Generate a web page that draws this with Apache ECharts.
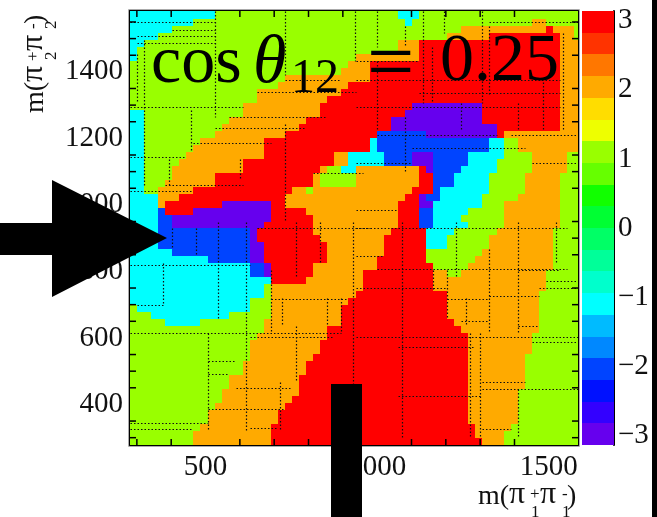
<!DOCTYPE html>
<html>
<head>
<meta charset="utf-8">
<style>html,body{margin:0;padding:0;background:#fff}#c{width:657px;height:517px}</style>
<script src="https://cdn.jsdelivr.net/npm/echarts@6/dist/echarts.min.js"></script>
</head>
<body>
<div id="c"></div>
<script>
// axis ranges (MeV) and colour-scale range
const xRange = [280, 1585];
const yRange = [278, 1583];
const zRange = [-Math.PI, Math.PI];
const xBinRange = [280, 1594];
const yBinRange = [278, 1580];
const xMajorTicks = [500, 1000, 1500];
const yMajorTicks = [400, 600, 800, 1000, 1200, 1400];
const xMinorTicks = [300,400,600,700,800,900,1100,1200,1300,1400];
const yMinorTicks = [300,350,450,500,550,650,700,750,850,900,950,1050,1100,1150,1250,1300,1350,1450,1500,1550];
const zTicks = [-3,-2,-1,0,1,2,3];
const nCols = 64;
const nRows = 62;
// phase value of each letter used in the rows below
const codeValues = {r:3.0, o:2.0, g:1.1, c:-1.1, b:-2.0, p:-3.0};
// 20 colour bands from -pi to pi
const bandColors = ['#6600ee','#3300ff','#0011ff','#0044ff','#0088ff','#00bbff','#00ffff','#00ffcc','#00ff99','#00ff66',
  '#00ff33','#11ff00','#66ff00','#99ff00','#eeff00','#ffdd00','#ffaa00','#ff7700','#ff3300','#ff0000'];
// phase map: rows from the top, each run is letter + end bin
const phaseRows = [
"c12 g38 c41 g64",
"c9 g39 c40 g57 o59 g64",
"c6 g47 o59 r60 o63 g64",
"c4 g45 o51 r61 o63 g64",
"c2 g38 o41 r61 o64",
"c1 g38 o41 r61 o64",
"c1 g32 o41 r61 o64",
"g31 o34 r61 o64",
"g30 o34 r61 o64",
"g22 o34 r61 o64",
"g21 o31 r61 o64",
"g18 o30 r61 o64",
"g18 o28 r61 o64",
"g16 o27 r40 p50 r61 o64",
"c2 g16 o27 r39 p50 r61 o64",
"c2 g14 o25 r37 p50 r61 o64",
"c2 g13 o24 r37 p52 r61 o64",
"c2 g12 o22 r35 b42 p52 r53 o64",
"c2 g10 o19 r34 c35 b51 c53 g55 o64",
"c2 g9 o19 r34 c35 b51 c53 g55 o64",
"c2 g8 o19 r29 o31 c36 b40 p43 b48 c53 g57 o62 g64",
"c2 g7 o16 r29 o31 c36 b40 p43 b48 c52 g57 o62 g64",
"c2 g6 o16 r27 o28 g30 c32 o41 r42 p43 b47 c52 g57 o62 g64",
"c2 g6 o12 r26 o27 g32 o41 r43 b46 c51 g56 o61 g64",
"c2 g5 o12 r26 o27 g32 o41 r43 b46 c51 g56 o61 g64",
"c2 g4 o9 r23 o25 g26 o40 r43 b44 c51 g56 o61 g64",
"c4 o7 r22 o39 r41 p42 b44 c50 g55 o61 g64",
"c4 o5 r13 p20 r22 o38 r41 p43 c50 g53 o61 g64",
"c4 b5 r9 p20 r25 o38 r41 b43 c48 g53 o61 g64",
"c4 b6 p20 r26 o38 r41 b43 c47 g53 o61 g64",
"c4 b6 p19 r26 o38 r41 b43 c48 g53 o61 g64",
"c4 b17 p18 r26 o37 r42 c46 g52 o60 g64",
"c4 b17 p18 r27 o36 r42 c45 g51 o60 g64",
"c4 b17 p19 r28 o36 r42 c45 g51 o60 g64",
"c6 b17 p19 r28 o36 r42 g50 o60 g64",
"c11 b17 p19 r28 o35 r42 g49 o60 g64",
"c17 b19 p20 r26 o35 r43 g48 o60 g64",
"c17 b19 p20 r26 o33 r43 o45 g47 o59 g64",
"c20 r25 o33 r43 o59 g64",
"c19 g20 o33 r43 o59 g64",
"c19 g20 o32 r45 o58 g64",
"c17 g20 o31 r45 o58 g64",
"g1 c17 g20 o30 r45 o58 g64",
"g3 c14 g20 o30 r45 o58 g64",
"g5 c10 g19 o30 r46 o58 g64",
"g19 o28 r47 o58 g64",
"g18 o28 r48 o57 g64",
"g17 o27 r48 o57 g64",
"g17 o27 r48 o57 g64",
"g17 o26 r48 o56 g64",
"g16 o25 r48 o56 g64",
"g16 o25 r48 o56 g64",
"g14 o24 r48 o56 g64",
"g14 o24 r48 o56 g64",
"g13 o24 r48 o55 g64",
"g13 o23 r48 o55 g64",
"g12 o22 r48 o55 g64",
"g11 o21 r48 o55 g64",
"g11 o21 r48 o55 g64",
"g10 o20 r49 o54 g64",
"g9 o20 r49 o53 g64",
"g9 o20 r50 o53 g64"
];
// dotted bin-edge lines: [row, firstBin, lastBin]
const hEdges = [[1.5,0,12],[2.6,6,12],[3.5,1,12],[4.5,1,12],[13.6,0,16],[20.7,0,8],[25.7,0,9],[18.7,9,20],[15,14,28],[16.6,12,25],
 [23,26,33],[24.7,5,16],[11.4,18,32],[9.7,22,30],[1.5,51,64],[7,32,41],[9.7,32,61],[11.6,41,61],[13.6,32,61],[17.6,35,52],[17.6,54,64],[19.5,40,56],[21.6,32,40],[21.6,57,64],[28.4,32,38],
 [30.9,18,34],[36.2,0,17],[41.1,20,31],[41.9,1,5],[45.9,0,30],[46.6,17,29],[53.8,15,23],[56.9,11,22],[50,11,15],[51.8,11,14],[58.8,0,11],[59.7,0,9],[59.5,17,21],
 [30.9,32,62],[34.9,32,36],[36.8,35,62],[39.5,32,45],[39.5,58,64],[40.6,51,58],[38.5,59,64],[37,55,61],[41.1,45,51],[46.6,32,64],[48,38,49],[47.3,57,64],[53,50,56],[54,50,64],[55,38,50],[59.7,50,54],[44.9,55,58],[44.2,47,51]];
// dotted bin-edge lines: [bin, firstRow, lastRow]
const vEdges = [[1,6,13],[2,4,13],[2,13,25],[8.6,14,20],[12,0,15],[22,0,9],[15.6,21,24],[22,16,30],[5.6,21,25],[31.9,0,7],[35,0,5],[39,2,5],[41.5,0,13],[51,2,12],[44.6,0,3],[42.8,5,13],[35,7,17],[55,13,17],[58.6,10,17],[61.5,3,17],[47,13,17],[39,15,23],[50,0,13],
 [4.7,36,42],[12.5,30,44],[11,46,60],[16.5,30,60],[20,37,46],[21.3,53,60],[23.6,45,53],[23.6,30,38],[27,30,36],[30,41,46],[28,41,45],[9.3,31,35],[6,31,34],[21.5,41,45],
 [38.6,30,61],[31.7,30,62],[46.3,30,38],[51,34,46],[55,30,46],[47.7,41,45],[49.7,46,61],[48.3,46,61],[43,37,40],[45,37,44],[60.5,30,36],[55,54,61]];
// text
const zLabels = {'-3':'\u22123','-2':'\u22122','-1':'\u22121','0':'0','1':'1','2':'2','3':'3'};
const axisPieces = [['m(',0,28],['\u03c0',31,32],['\u03c0',62,32],[')',89,28]];

const serif = '"Liberation Serif"';
const binH = (yBinRange[1]-yBinRange[0])/nRows;
const binX = c => xBinRange[0]+c*(xBinRange[1]-xBinRange[0])/nCols;
const binY = r => r===0 ? yRange[1] : yBinRange[1]-r*binH;
const colorOf = v => bandColors[Math.min(19, Math.floor((v-zRange[0])/(zRange[1]-zRange[0])*20))];

const cells = [];
phaseRows.forEach((row,r)=>{
  let start=0;
  row.split(' ').forEach(run=>{
    const end=+run.slice(1);
    cells.push([binX(start),binX(end),binY(r+1),binY(r),codeValues[run[0]]]);
    start=end;
  });
});
const edges = [];
hEdges.forEach(e=>edges.push([binX(e[1]),binY(e[0]),binX(e[2]),binY(e[0])]));
vEdges.forEach(e=>edges.push([binX(e[0]),binY(e[1]),binX(e[0]),binY(e[2])]));
const minorData = [];
xMinorTicks.forEach(v=>minorData.push([v,yRange[0],0,1],[v,yRange[1],0,-1]));
yMinorTicks.forEach(v=>minorData.push([xRange[0],v,1,0],[xRange[1],v,-1,0]));
const bandData = bandColors.map((c,i)=>{
  const w=(zRange[1]-zRange[0])/20;
  return [0,1,zRange[0]+i*w,zRange[0]+(i+1)*w,zRange[0]+(i+.5)*w];
});

function rectItem(params,api){
  const a=api.coord([api.value(0),api.value(2)]), b=api.coord([api.value(1),api.value(3)]);
  const x0=Math.round(Math.min(a[0],b[0])), x1=Math.round(Math.max(a[0],b[0]));
  const y0=Math.round(Math.min(a[1],b[1])), y1=Math.round(Math.max(a[1],b[1]));
  return {type:'rect',shape:{x:x0,y:y0,width:x1-x0,height:y1-y0},style:{fill:colorOf(api.value(4))}};
}
function mainAxis(extra){
  return Object.assign({type:'value',gridIndex:0,scale:true,splitLine:{show:false},
    axisLine:{show:true,onZero:false,lineStyle:{color:'#000',width:2}}},extra);
}
const plain = v => String(v);
const tickFont = {fontFamily:serif,fontSize:29,color:'#111',formatter:plain};
function scriptPieces(sub){
  return axisPieces.map(p=>({type:'text',x:p[1],y:0,style:{text:p[0],font:p[2]+'px '+serif,fill:'#111',verticalAlign:'bottom'}}))
   .concat([[52,-16,'+'],[84,-16,'-'],[53,2,sub],[84,2,sub]].map(s=>({type:'text',x:s[0],y:s[1],style:{text:s[2],font:'17px '+serif,fill:'#111',verticalAlign:'middle'}})));
}
const option = {
  animation:false,
  backgroundColor:'#fff',
  grid:[{left:130,top:11,width:448,height:434,containLabel:false},{left:582,top:11,width:32,height:434}],
  xAxis:[
    mainAxis({position:'bottom',min:xRange[0],max:xRange[1],
      axisTick:{show:true,inside:true,length:12,customValues:xMajorTicks,lineStyle:{color:'#000',width:2}},
      axisLabel:{show:true,margin:8,customValues:xMajorTicks,...tickFont}}),
    mainAxis({position:'top',min:xRange[0],max:xRange[1],
      axisTick:{show:true,inside:true,length:12,customValues:xMajorTicks,lineStyle:{color:'#000',width:2}},
      axisLabel:{show:false}}),
    {type:'value',gridIndex:1,min:0,max:1,show:false}
  ],
  yAxis:[
    mainAxis({position:'left',min:yRange[0],max:yRange[1],
      axisTick:{show:true,inside:true,length:12,customValues:yMajorTicks,lineStyle:{color:'#000',width:2}},
      axisLabel:{show:true,margin:7,customValues:yMajorTicks,...tickFont}}),
    mainAxis({position:'right',min:yRange[0],max:yRange[1],
      axisTick:{show:true,inside:true,length:12,customValues:yMajorTicks,lineStyle:{color:'#000',width:2}},
      axisLabel:{show:false}}),
    {type:'value',gridIndex:1,position:'right',min:zRange[0],max:zRange[1],scale:true,splitLine:{show:false},
      axisLine:{show:true,onZero:false,lineStyle:{color:'#000',width:2}},
      axisTick:{show:true,inside:true,length:17,customValues:zTicks,lineStyle:{color:'#000',width:2}},
      axisLabel:{show:true,margin:4,customValues:zTicks,fontFamily:serif,fontSize:29,color:'#111',formatter:v=>zLabels[String(Math.round(v))]}}
  ],
  series:[
    {type:'custom',name:'phase',xAxisIndex:0,yAxisIndex:0,silent:true,z:1,clip:true,
      encode:{x:[0,1],y:[2,3]},data:cells,renderItem:rectItem},
    {type:'custom',name:'binEdges',xAxisIndex:0,yAxisIndex:0,silent:true,z:2,clip:true,
      encode:{x:[0,2],y:[1,3]},data:edges,
      renderItem(params,api){
        const a=api.coord([api.value(0),api.value(1)]), b=api.coord([api.value(2),api.value(3)]);
        return {type:'line',shape:{x1:Math.round(a[0])+.5,y1:Math.round(a[1])+.5,x2:Math.round(b[0])+.5,y2:Math.round(b[1])+.5},
          style:{stroke:'#111',lineWidth:1.2,lineDash:[1.5,2]}};
      }},
    {type:'custom',name:'minorTicks',xAxisIndex:0,yAxisIndex:0,silent:true,z:3,clip:false,
      encode:{x:0,y:1},data:minorData,
      renderItem(params,api){
        const a=api.coord([api.value(0),api.value(1)]), dx=api.value(2), dy=api.value(3);
        return {type:'line',shape:{x1:a[0],y1:a[1],x2:a[0]+dx*6,y2:a[1]-dy*6},style:{stroke:'#000',lineWidth:1.5}};
      }},
    {type:'custom',name:'colorbar',xAxisIndex:2,yAxisIndex:2,silent:true,z:1,clip:true,
      encode:{x:[0,1],y:[2,3]},data:bandData,renderItem:rectItem}
  ],
  graphic:[
    {type:'rect',z:0,shape:{x:128.5,y:9.5,width:451,height:437},style:{fill:'none',stroke:'#aaa',lineWidth:1}},
    {type:'text',x:151,y:64,z:50,style:{text:'cos',font:'68px '+serif,fill:'#000',verticalAlign:'middle'}},
    {type:'text',x:253,y:64,z:50,style:{text:'\u03b8',font:'italic 68px '+serif,fill:'#000',verticalAlign:'middle'}},
    {type:'text',x:291,y:79,z:50,style:{text:'12',font:'48px '+serif,fill:'#000',verticalAlign:'middle'}},
    {type:'text',x:367,y:68,z:50,style:{text:'=',font:'84px '+serif,fill:'#000',verticalAlign:'middle'}},
    {type:'text',x:440,y:62,z:50,style:{text:'0.25',font:'68px '+serif,fill:'#000',verticalAlign:'middle'}},
    {type:'group',x:478,y:511,z:50,children:scriptPieces('1')},
    {type:'group',x:50,y:113,rotation:Math.PI/2,z:50,children:scriptPieces('2')},
    {type:'polygon',z:60,shape:{points:[[0,223],[52,223],[52,180],[167,238],[52,297],[52,255],[0,255]]},style:{fill:'#000'}},
    {type:'rect',z:60,shape:{x:331,y:384,width:31,height:133},style:{fill:'#000'}},
    {type:'rect',z:60,shape:{x:652,y:0,width:5,height:517},style:{fill:'#000'}}
  ]
};
echarts.init(document.getElementById('c'),null,{renderer:'canvas'}).setOption(option);
</script>
</body>
</html>
